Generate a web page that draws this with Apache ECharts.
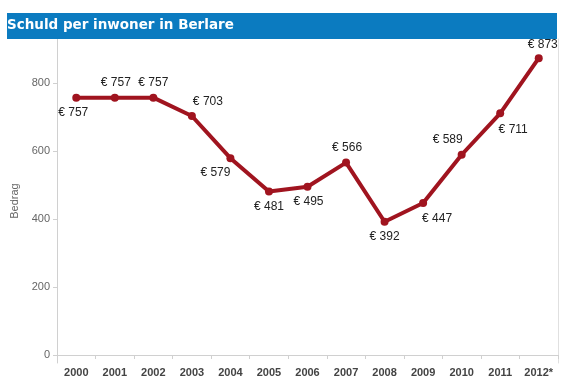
<!DOCTYPE html>
<html><head><meta charset="utf-8">
<script src="https://cdn.jsdelivr.net/npm/echarts@6/dist/echarts.min.js"></script>
<style>html,body{margin:0;padding:0;background:#fff}#c{width:570px;height:383px}</style>
</head><body><div id="c"></div>
<script>
const titleText = 'Schuld per inwoner in Berlare';
const yAxisName = 'Bedrag';
const categories = ['2000','2001','2002','2003','2004','2005','2006','2007','2008','2009','2010','2011','2012*'];
const values = [757,757,757,703,579,481,495,566,392,447,589,711,873];
const yTicks = [0,200,400,600,800];
// label placement per point (style only)
const labelPos = ['bottom','top','top','top','bottom','bottom','bottom','top','bottom','bottom','top','bottom','top'];
const labelOff = [[-3,0],[1,0],[0,0],[16,1],[-15,0],[0,0],[1,0],[1,0],[0,0],[14,1],[-14,0],[13,1],[4,1]];

const chart = echarts.init(document.getElementById('c'), null, {renderer:'canvas'});
chart.setOption({
  animation:false,
  backgroundColor:'#fff',
  graphic:[
    {type:'rect', left:7, top:13, shape:{width:550,height:26}, style:{fill:'#0b7bc0'}, z:10},
    {type:'text', left:7, top:18, style:{text:titleText, fill:'#fff', font:'bold 13.5px "DejaVu Sans", Verdana, sans-serif'}, z:11}
  ],
  grid:{left:57, right:12, top:39, bottom:20},
  xAxis:{
    type:'category', data:categories, boundaryGap:true,
    axisLine:{show:true, lineStyle:{color:'#d0d0d0'}},
    axisTick:{show:true, length:4, lineStyle:{color:'#d0d0d0'}},
    axisLabel:{color:'#444', fontSize:11, fontWeight:'bold', margin:4, fontFamily:'Arial, "Liberation Sans", sans-serif'},
    splitLine:{show:false}
  },
  yAxis:[{
    type:'value', min:-23.5, max:929.5,
    name:yAxisName, nameLocation:'middle', nameGap:36, nameRotate:90,
    nameTextStyle:{color:'#666', fontSize:11, fontFamily:'Arial, "Liberation Sans", sans-serif'},
    axisLine:{show:true, lineStyle:{color:'#d0d0d0'}},
    axisTick:{show:true, length:4, customValues:yTicks, lineStyle:{color:'#d0d0d0'}},
    axisLabel:{customValues:yTicks, color:'#666', fontSize:11, margin:7, fontFamily:'Arial, "Liberation Sans", sans-serif'},
    splitLine:{show:false}
  },{
    type:'value', min:-23.5, max:929.5, position:'right',
    axisLine:{show:true, lineStyle:{color:'#e0e0e0'}},
    axisTick:{show:false}, axisLabel:{show:false}, splitLine:{show:false}
  }],
  series:[{
    type:'line', data:values.map((v,i)=>({value:v, label:{position:labelPos[i], offset:labelOff[i]}})),
    symbol:'circle', symbolSize:8,
    lineStyle:{color:'#a0141f', width:4},
    itemStyle:{color:'#a0141f'},
    label:{show:true, formatter:p=>'€ '+p.value, color:'#222', fontSize:12, distance:5, fontFamily:'Arial, "Liberation Sans", sans-serif'}
  }]
});
</script></body></html>
